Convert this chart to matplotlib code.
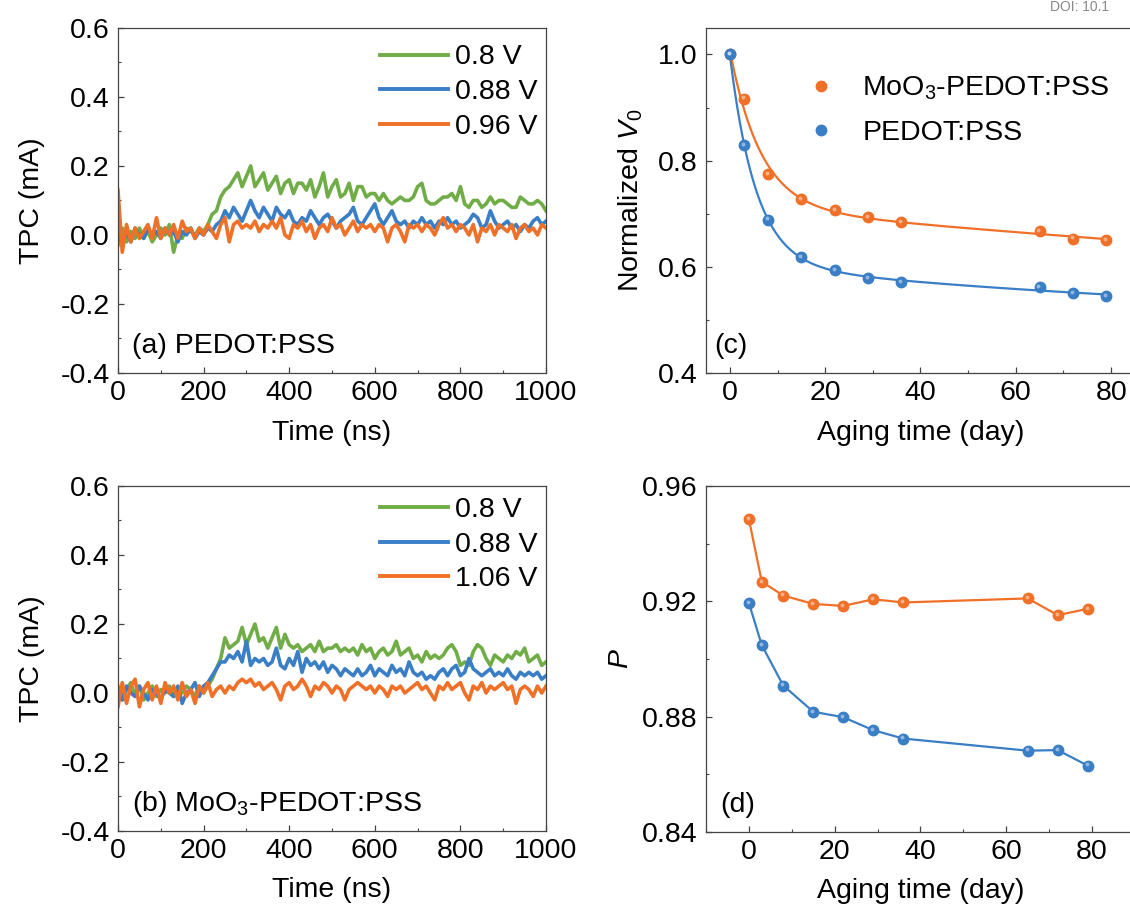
import numpy as np
import matplotlib
matplotlib.use("Agg")
import matplotlib.pyplot as plt
import matplotlib.transforms as mtransforms
from matplotlib.ticker import MultipleLocator

plt.rcParams["font.family"] = ["Liberation Sans", "DejaVu Sans"]
plt.rcParams["mathtext.fontset"] = "custom"
plt.rcParams["mathtext.rm"] = "Liberation Sans"
plt.rcParams["mathtext.it"] = "Liberation Sans:italic"

# ---- data ----
time_ns = np.arange(0, 1001, 10)

# (a) PEDOT:PSS
tpc_a_080 = [-0.03, 0.02, -0.02, 0.01, -0.01, 0.02, -0.01, 0.01, -0.02, 0.00,
             0.02, 0.00, 0.03, -0.05, 0.00, -0.01, 0.02, 0.01, 0.00, 0.02,
             0.01, 0.03, 0.06, 0.07, 0.11, 0.13, 0.14, 0.16, 0.18, 0.14,
             0.17, 0.20, 0.14, 0.16, 0.18, 0.13, 0.15, 0.17, 0.12, 0.15,
             0.16, 0.12, 0.15, 0.15, 0.13, 0.16, 0.11, 0.14, 0.18, 0.11,
             0.14, 0.16, 0.11, 0.12, 0.15, 0.10, 0.14, 0.14, 0.11, 0.12,
             0.12, 0.10, 0.12, 0.10, 0.09, 0.10, 0.11, 0.10, 0.10, 0.11,
             0.14, 0.15, 0.10, 0.09, 0.09, 0.10, 0.11, 0.11, 0.12, 0.10,
             0.14, 0.09, 0.08, 0.10, 0.10, 0.08, 0.09, 0.11, 0.09, 0.10,
             0.10, 0.09, 0.08, 0.08, 0.11, 0.10, 0.09, 0.09, 0.10, 0.09,
             0.07]
tpc_a_088 = [0.02, -0.03, 0.01, -0.02, 0.02, 0.00, -0.01, 0.02, 0.00, 0.01,
             -0.01, 0.02, 0.00, 0.01, -0.02, 0.01, 0.00, 0.02, -0.01, 0.01,
             0.00, 0.02, 0.01, 0.03, 0.04, 0.07, 0.05, 0.08, 0.06, 0.04,
             0.07, 0.10, 0.07, 0.05, 0.08, 0.06, 0.04, 0.08, 0.06, 0.05,
             0.07, 0.04, 0.03, 0.05, 0.04, 0.07, 0.05, 0.03, 0.05, 0.06,
             0.04, 0.02, 0.04, 0.05, 0.06, 0.08, 0.04, 0.03, 0.05, 0.07,
             0.09, 0.05, 0.03, 0.05, 0.07, 0.04, 0.03, 0.04, 0.02, 0.04,
             0.03, 0.05, 0.03, 0.04, 0.02, 0.04, 0.03, 0.05, 0.03, 0.04,
             0.02, 0.03, 0.04, 0.06, 0.05, 0.02, 0.03, 0.07, 0.04, 0.02,
             0.03, 0.04, 0.02, 0.03, 0.01, 0.03, 0.02, 0.04, 0.05, 0.03,
             0.04]
tpc_a_096 = [0.13, -0.05, 0.03, -0.02, 0.02, -0.01, 0.01, 0.03, -0.01, 0.05,
             -0.01, 0.02, 0.00, 0.03, -0.01, 0.04, 0.01, 0.02, -0.01, 0.02,
             0.00, 0.03, 0.01, -0.01, 0.03, 0.05, -0.02, 0.03, 0.04, 0.02,
             0.03, 0.02, 0.04, 0.01, 0.03, 0.02, 0.04, 0.02, 0.05, 0.00,
             -0.01, 0.03, 0.02, 0.04, 0.01, 0.03, -0.01, 0.02, 0.03, 0.01,
             0.05, 0.02, 0.03, 0.00, 0.02, 0.04, 0.01, 0.03, 0.02, 0.03,
             0.01, 0.03, 0.02, -0.02, 0.02, 0.03, 0.01, -0.02, 0.03, 0.02,
             0.03, 0.01, 0.03, 0.02, 0.00, 0.03, 0.05, 0.02, 0.03, 0.01,
             0.03, 0.02, 0.00, 0.03, -0.02, 0.02, 0.01, 0.03, 0.00, 0.03,
             0.02, 0.01, 0.03, -0.01, 0.02, 0.03, 0.01, 0.02, 0.00, 0.03,
             0.02]

# (b) MoO3-PEDOT:PSS
tpc_b_080 = [0.02, -0.02, 0.01, 0.03, -0.01, 0.02, -0.02, 0.00, 0.02, -0.01,
             0.01, 0.00, 0.02, -0.01, 0.01, 0.00, 0.02, 0.01, -0.01, 0.02,
             0.00, 0.02, 0.04, 0.07, 0.10, 0.16, 0.13, 0.14, 0.15, 0.19,
             0.14, 0.17, 0.20, 0.15, 0.16, 0.13, 0.16, 0.19, 0.13, 0.17,
             0.14, 0.13, 0.14, 0.12, 0.13, 0.14, 0.12, 0.15, 0.12, 0.13,
             0.13, 0.14, 0.12, 0.13, 0.12, 0.13, 0.11, 0.14, 0.12, 0.13,
             0.10, 0.12, 0.13, 0.11, 0.12, 0.15, 0.11, 0.12, 0.13, 0.10,
             0.11, 0.09, 0.12, 0.10, 0.11, 0.10, 0.11, 0.13, 0.14, 0.12,
             0.08, 0.09, 0.08, 0.12, 0.14, 0.13, 0.10, 0.08, 0.11, 0.10,
             0.09, 0.11, 0.10, 0.12, 0.11, 0.13, 0.09, 0.10, 0.11, 0.08,
             0.09]
tpc_b_088 = [0.01, -0.02, 0.02, 0.00, -0.01, 0.02, 0.00, -0.02, 0.01, 0.00,
             -0.02, 0.01, 0.00, -0.01, 0.02, -0.03, 0.00, 0.01, 0.03, -0.01,
             0.02, 0.03, 0.05, 0.07, 0.09, 0.09, 0.11, 0.10, 0.12, 0.09,
             0.15, 0.08, 0.10, 0.09, 0.10, 0.08, 0.09, 0.13, 0.08, 0.07,
             0.10, 0.08, 0.12, 0.06, 0.10, 0.08, 0.09, 0.07, 0.09, 0.06,
             0.08, 0.07, 0.05, 0.07, 0.06, 0.05, 0.07, 0.05, 0.06, 0.08,
             0.05, 0.07, 0.06, 0.05, 0.08, 0.06, 0.07, 0.05, 0.09, 0.06,
             0.05, 0.06, 0.04, 0.05, 0.04, 0.06, 0.07, 0.05, 0.07, 0.08,
             0.05, 0.06, 0.10, 0.07, 0.06, 0.05, 0.06, 0.07, 0.05, 0.06,
             0.05, 0.07, 0.05, 0.04, 0.06, 0.05, 0.06, 0.05, 0.06, 0.04,
             0.05]
tpc_b_106 = [-0.04, 0.03, -0.03, 0.02, 0.04, -0.04, 0.01, 0.03, -0.02, 0.02,
             -0.03, 0.03, 0.00, 0.02, -0.02, 0.03, -0.01, 0.01, -0.03, 0.02,
             0.00, 0.03, -0.01, 0.01, 0.02, 0.00, 0.02, 0.01, 0.03, 0.04,
             0.03, 0.04, 0.02, 0.03, 0.01, 0.02, 0.03, 0.01, -0.02, 0.02,
             0.03, 0.01, 0.02, 0.04, 0.02, -0.01, 0.02, 0.01, 0.03, 0.02,
             0.00, 0.02, 0.01, -0.02, 0.01, 0.02, 0.03, 0.02, 0.01, 0.02,
             0.00, 0.02, 0.01, -0.01, 0.02, 0.01, 0.02, 0.00, 0.01, 0.02,
             0.03, 0.01, 0.02, 0.00, -0.02, 0.02, 0.01, 0.03, 0.01, 0.02,
             0.03, 0.00, -0.02, 0.02, 0.01, 0.03, 0.00, 0.02, 0.01, 0.02,
             0.03, 0.01, 0.02, -0.03, 0.01, 0.02, 0.01, -0.01, 0.02, 0.00,
             0.02]

aging_day = np.array([0, 3, 8, 15, 22, 29, 36, 65, 72, 79])
v0_moo3 = np.array([1.0, 0.917, 0.774, 0.728, 0.707, 0.693, 0.684, 0.668, 0.653, 0.650])
v0_pedot = np.array([1.0, 0.829, 0.689, 0.619, 0.594, 0.579, 0.571, 0.561, 0.551, 0.545])
p_moo3 = [0.9484, 0.9268, 0.9220, 0.9191, 0.9184, 0.9207, 0.9196, 0.9210, 0.9152, 0.9174]
p_pedot = [0.9194, 0.9048, 0.8908, 0.8817, 0.8798, 0.8753, 0.8724, 0.8682, 0.8684, 0.8630]

GREEN = "#70AD47"
BLUE = "#3A7EC6"
ORANGE = "#F07028"
SPINE = "#444444"


def style_axes(ax):
    for s in ax.spines.values():
        s.set_color(SPINE)
        s.set_linewidth(0.9)
    ax.tick_params(which="both", direction="in", top=False, right=False,
                   labelsize=20.5, color=SPINE)
    ax.tick_params(which="major", length=4, width=0.9)
    ax.tick_params(which="minor", length=2.5, width=0.8)
    ax.tick_params(axis="x", pad=5)
    ax.tick_params(axis="y", pad=6)


def set_labels(ax, xlab, ylab, xy_x, xy_y, **ykw):
    ax.set_xlabel(xlab, fontsize=20.5, va="center")
    ax.set_ylabel(ylab, fontsize=20.5, va="center", **ykw)
    ax.xaxis.set_label_coords(0.5, xy_y)
    ax.yaxis.set_label_coords(xy_x, 0.5)


def biexp_fit(t, y):
    # y = a + b*exp(-t/t1) + c*exp(-t/t2), linear in a,b,c for fixed t1,t2
    best = None
    for t1 in np.linspace(0.5, 15, 59):
        for t2 in np.linspace(15, 400, 78):
            A = np.column_stack([np.ones_like(t, dtype=float), np.exp(-t / t1), np.exp(-t / t2)])
            coef = np.linalg.lstsq(A, y, rcond=None)[0]
            err = np.sum((A @ coef - y) ** 2)
            if best is None or err < best[0]:
                best = (err, t1, t2, coef)
    _, t1, t2, coef = best
    return lambda tt: coef[0] + coef[1] * np.exp(-tt / t1) + coef[2] * np.exp(-tt / t2)


def balls(ax, x, y, color, **kw):
    ax.plot(x, y, "o", color=color, ms=7.5, mec=color, zorder=3, **kw)
    shine = mtransforms.offset_copy(ax.transData, fig=ax.figure, x=-1.2, y=1.2, units="dots")
    ax.plot(x, y, "o", color="white", alpha=0.45, ms=2.8, mew=0, transform=shine, zorder=4)


fig = plt.figure(figsize=(11.3, 9.07), dpi=100)

# ---- (a) and (b): TPC traces ----
tpc_panels = [
    ([0.1044, 0.5888, 0.3788, 0.3804], [tpc_a_080, tpc_a_088, tpc_a_096],
     ["0.8 V", "0.88 V", "0.96 V"], "(a) PEDOT:PSS", 0.952, -0.174),
    ([0.1044, 0.0838, 0.3788, 0.3804], [tpc_b_080, tpc_b_088, tpc_b_106],
     ["0.8 V", "0.88 V", "1.06 V"], "(b) MoO$_3$-PEDOT:PSS", 0.967, -0.171),
]
for pos, series, labels, tag, legtop, xl_y in tpc_panels:
    ax = fig.add_axes(pos)
    for vals, lab, col in zip(series, labels, [GREEN, BLUE, ORANGE]):
        ax.plot(time_ns, vals, color=col, lw=2.6, label=lab, solid_joinstyle="round")
    ax.set_xlim(0, 1000)
    ax.set_ylim(-0.4, 0.6)
    ax.xaxis.set_major_locator(MultipleLocator(200))
    ax.xaxis.set_minor_locator(MultipleLocator(100))
    ax.yaxis.set_major_locator(MultipleLocator(0.2))
    ax.yaxis.set_minor_locator(MultipleLocator(0.1))
    ax.set_yticklabels([f"{v:.1f}" for v in ax.get_yticks()])
    style_axes(ax)
    set_labels(ax, "Time (ns)", "TPC (mA)", -0.201, xl_y)
    leg = ax.legend(loc="upper left", bbox_to_anchor=(0.612, legtop), frameon=False,
                    fontsize=20.5, handlelength=2.4, handletextpad=0.25,
                    labelspacing=0.3, borderpad=0, borderaxespad=0)
    for ln in leg.get_lines():
        ln.set_linewidth(2.8)
    ax.text(0.033, 0.058, tag, transform=ax.transAxes, fontsize=20.5, va="baseline")

# ---- (c): normalized V0 ----
axc = fig.add_axes([0.6248, 0.5888, 0.3796, 0.3804])
tt = np.linspace(0, 79, 300)
for vals, col, lab in [(v0_moo3, ORANGE, "MoO$_3$-PEDOT:PSS"), (v0_pedot, BLUE, "PEDOT:PSS")]:
    fit = biexp_fit(aging_day.astype(float), vals)
    axc.plot(tt, fit(tt), color=col, lw=1.6, zorder=2)
    balls(axc, aging_day, vals, col, label=lab)
axc.set_xlim(-5, 85)
axc.set_ylim(0.4, 1.05)
axc.xaxis.set_major_locator(MultipleLocator(20))
axc.xaxis.set_minor_locator(MultipleLocator(10))
axc.yaxis.set_major_locator(MultipleLocator(0.2))
axc.yaxis.set_minor_locator(MultipleLocator(0.1))
style_axes(axc)
set_labels(axc, "Aging time (day)", "Normalized $V_0$", -0.175, -0.174)
axc.legend(loc="upper left", bbox_to_anchor=(0.235, 0.865), frameon=False, fontsize=20.5,
           handlelength=1.0, handletextpad=0.95, labelspacing=0.62, borderpad=0,
           borderaxespad=0, numpoints=1)
axc.text(0.02, 0.058, "(c)", transform=axc.transAxes, fontsize=20.5, va="baseline")

# ---- (d): P ----
axd = fig.add_axes([0.6248, 0.0827, 0.3796, 0.3815])
axd.plot(aging_day, p_moo3, color=ORANGE, lw=1.6, zorder=2)
balls(axd, aging_day, p_moo3, ORANGE)
axd.plot(aging_day, p_pedot, color=BLUE, lw=1.6, zorder=2)
balls(axd, aging_day, p_pedot, BLUE)
axd.set_xlim(-10, 90)
axd.set_ylim(0.84, 0.96)
axd.xaxis.set_major_locator(MultipleLocator(20))
axd.xaxis.set_minor_locator(MultipleLocator(10))
axd.yaxis.set_major_locator(MultipleLocator(0.04))
axd.yaxis.set_minor_locator(MultipleLocator(0.02))
axd.set_yticklabels([f"{v:.2f}" for v in axd.get_yticks()])
style_axes(axd)
set_labels(axd, "Aging time (day)", "P", -0.2, -0.171, fontstyle="italic")
axd.text(0.033, 0.058, "(d)", transform=axd.transAxes, fontsize=20.5, va="baseline")

fig.text(1050 / 1130, 1 - 11 / 907, "DOI: 10.1", fontsize=10, color="#888888", va="baseline")

fig.savefig("out.png", dpi=100)
